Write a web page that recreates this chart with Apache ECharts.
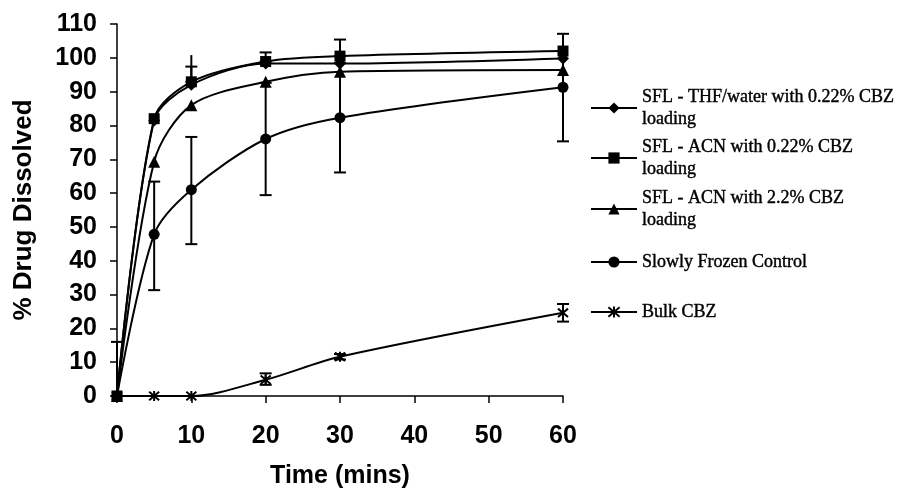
<!DOCTYPE html>
<html>
<head>
<meta charset="utf-8">
<script src="https://cdn.jsdelivr.net/npm/echarts@6/dist/echarts.min.js"></script>
<style>
  html, body { margin: 0; padding: 0; background: #fff; }
  #chart { width: 902px; height: 495px; }
</style>
</head>
<body>
<div id="chart"></div>
<script>
// Sampling times (minutes)
const times = [0, 5, 10, 20, 30, 60];

// % drug dissolved for each formulation
const thfWater022 = [0, 81.5, 92.0, 98.3, 98.3, 99.8];
const acn022      = [0, 82.0, 92.9, 98.9, 100.5, 102.0];
const acn22       = [0, 69.3, 86.0, 92.9, 95.9, 96.4];
const slowFrozen  = [0, 47.8, 61.0, 76.0, 82.3, 91.3];
const bulkCbz     = [0, 0, 0, 4.8, 11.6, 24.6];

// Error bars: [time, low, high]
const thfWaterErr = [[10, 92.0, 100.8]];
const acn022Err   = [[10, 92.9, 97.4], [20, 98.9, 101.6], [30, 100.5, 105.4]];
const slowErr     = [[0, 0, 16], [5, 31.3, 63.4], [10, 44.9, 76.6], [20, 59.4, 92.6], [30, 66.1, 98.5], [60, 75.3, 107.1]];
const bulkErr     = [[20, 3.3, 6.7], [30, 10.8, 12.4], [60, 22.0, 27.2]];

const names = [
  'SFL - THF/water with 0.22% CBZ\nloading',
  'SFL - ACN with 0.22% CBZ\nloading',
  'SFL - ACN with 2.2% CBZ\nloading',
  'Slowly Frozen Control',
  'Bulk CBZ'
];

const asterisk = 'path://M0,0L10,10M10,0L0,10M5,-1L5,11';

const black = '#000';

function lineSeries(name, values, symbol, size) {
  return {
    type: 'line',
    name: name,
    data: times.map((t, i) => [t, values[i]]),
    smooth: 0.3,
    symbol: symbol,
    symbolSize: size,
    showAllSymbol: true,
    lineStyle: { color: black, width: 2 },
    itemStyle: { color: black, borderColor: black, borderWidth: symbol === asterisk ? 2 : 0 },
    z: 3
  };
}

function errorSeries(id, data, capHalf) {
  return {
    type: 'custom',
    id: id,
    data: data,
    encode: { x: 0, y: [1, 2] },
    silent: true,
    z: 2,
    renderItem(params, api) {
      const t = api.value(0);
      const lo = api.coord([t, api.value(1)]);
      const hi = api.coord([t, api.value(2)]);
      const st = { stroke: black, lineWidth: 2 };
      const children = [
        { type: 'line', shape: { x1: lo[0], y1: lo[1], x2: hi[0], y2: hi[1] }, style: st }
      ];
      if (capHalf > 0) {
        children.push({ type: 'line', shape: { x1: lo[0] - capHalf, y1: lo[1], x2: lo[0] + capHalf, y2: lo[1] }, style: st });
        children.push({ type: 'line', shape: { x1: hi[0] - capHalf, y1: hi[1], x2: hi[0] + capHalf, y2: hi[1] }, style: st });
      }
      return { type: 'group', children: children };
    }
  };
}

// One legend block per entry so the marker lines up with the first text line
const legendCenters = [108, 158, 209, 262, 312];
const lineH = 22;
const iconH = 14;
const legends = names.map((n, i) => {
  const twoLine = n.indexOf('\n') >= 0;
  return {
    data: [n],
    left: 590,
    top: legendCenters[i] - (twoLine ? 1.5 * lineH : lineH / 2),
    padding: 0,
    itemWidth: 46,
    itemHeight: iconH,
    itemGap: 0,
    selectedMode: false,
    textStyle: {
      fontFamily: 'Liberation Serif',
      fontSize: 18,
      color: black,
      textBorderColor: black,
      textBorderWidth: 0.4,
      lineHeight: lineH,
      padding: twoLine ? [lineH, 0, 0, 0] : 0
    }
  };
});

const axisFont = { fontFamily: 'Liberation Sans', fontWeight: 'bold', fontSize: 25, color: black };

const option = {
  backgroundColor: '#fff',
  animation: false,
  grid: { left: 117, right: 339, top: 24, bottom: 99, containLabel: false },
  legend: legends,
  xAxis: {
    type: 'value',
    min: 0, max: 60, interval: 10,
    name: 'Time (mins)',
    nameLocation: 'middle',
    nameGap: 68,
    nameTextStyle: { fontFamily: 'Liberation Sans', fontWeight: 'bold', fontSize: 25, color: black },
    axisLine: { show: true, onZero: false, lineStyle: { color: black, width: 1.5 } },
    axisTick: { show: true, inside: false, length: 7, lineStyle: { color: black, width: 1.5 } },
    axisLabel: Object.assign({ margin: 28 }, axisFont),
    splitLine: { show: false }
  },
  yAxis: {
    type: 'value',
    min: 0, max: 110, interval: 10,
    name: '% Drug Dissolved',
    nameLocation: 'middle',
    nameGap: 80,
    nameTextStyle: { fontFamily: 'Liberation Sans', fontWeight: 'bold', fontSize: 26, color: black },
    axisLine: { show: true, lineStyle: { color: black, width: 1.5 } },
    axisTick: { show: true, inside: false, length: 7, lineStyle: { color: black, width: 1.5 } },
    axisLabel: Object.assign({ margin: 20 }, axisFont),
    splitLine: { show: false }
  },
  series: [
    errorSeries('thfWaterErr', thfWaterErr, 0),
    errorSeries('acn022Err', acn022Err, 6),
    errorSeries('slowErr', slowErr, 6),
    errorSeries('bulkErr', bulkErr, 6),
    lineSeries(names[0], thfWater022, 'diamond', 12),
    lineSeries(names[1], acn022, 'rect', 11),
    lineSeries(names[2], acn22, 'triangle', 12),
    lineSeries(names[3], slowFrozen, 'circle', 11),
    lineSeries(names[4], bulkCbz, asterisk, 10)
  ]
};

const chart = echarts.init(document.getElementById('chart'), null, { renderer: 'canvas' });
chart.setOption(option);
</script>
</body>
</html>
